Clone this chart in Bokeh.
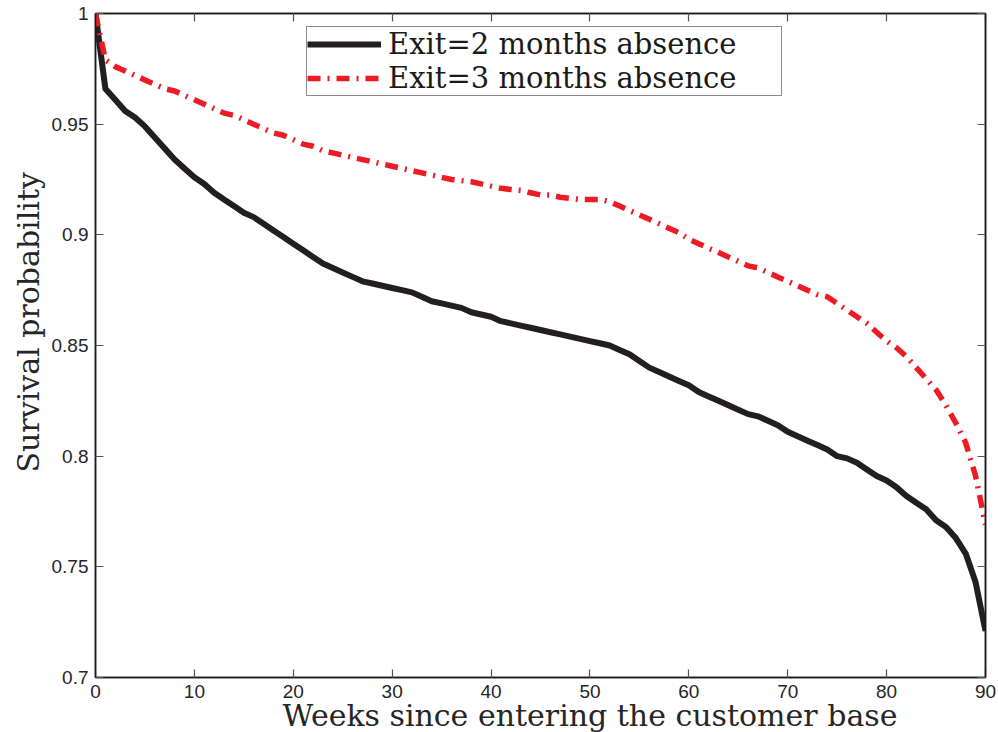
from bokeh.plotting import figure
from bokeh.models import Range1d, FixedTicker, LinearAxis, Legend, LegendItem, Title
from bokeh.embed import file_html
from bokeh.resources import INLINE

# ---- data ----
weeks = list(range(91))
exit2 = [1.000, 0.966, 0.961, 0.956, 0.953, 0.949, 0.944, 0.939, 0.934, 0.930,
         0.926, 0.923, 0.919, 0.916, 0.913, 0.910, 0.908, 0.905, 0.902, 0.899,
         0.896, 0.893, 0.890, 0.887, 0.885, 0.883, 0.881, 0.879, 0.878, 0.877,
         0.876, 0.875, 0.874, 0.872, 0.870, 0.869, 0.868, 0.867, 0.865, 0.864,
         0.863, 0.861, 0.860, 0.859, 0.858, 0.857, 0.856, 0.855, 0.854, 0.853,
         0.852, 0.851, 0.850, 0.848, 0.846, 0.843, 0.840, 0.838, 0.836, 0.834,
         0.832, 0.829, 0.827, 0.825, 0.823, 0.821, 0.819, 0.818, 0.816, 0.814,
         0.811, 0.809, 0.807, 0.805, 0.803, 0.800, 0.799, 0.797, 0.794, 0.791,
         0.789, 0.786, 0.782, 0.779, 0.776, 0.771, 0.768, 0.763, 0.756, 0.743,
         0.721]
exit3 = [1.000, 0.979, 0.976, 0.974, 0.972, 0.970, 0.968, 0.966, 0.965, 0.963,
         0.961, 0.959, 0.957, 0.955, 0.954, 0.952, 0.950, 0.948, 0.946, 0.945,
         0.943, 0.941, 0.940, 0.938, 0.937, 0.936, 0.935, 0.934, 0.933, 0.932,
         0.931, 0.930, 0.929, 0.928, 0.927, 0.926, 0.925, 0.9245, 0.924, 0.923,
         0.922, 0.921, 0.9205, 0.920, 0.919, 0.918, 0.918, 0.917, 0.9165, 0.916,
         0.916, 0.916, 0.915, 0.913, 0.911, 0.909, 0.907, 0.905, 0.903, 0.901,
         0.898, 0.896, 0.894, 0.892, 0.890, 0.888, 0.886, 0.885, 0.883, 0.881,
         0.879, 0.877, 0.875, 0.873, 0.872, 0.869, 0.866, 0.863, 0.860, 0.856,
         0.852, 0.849, 0.845, 0.840, 0.835, 0.830, 0.823, 0.815, 0.806, 0.791,
         0.769]
x_ticks = [0, 10, 20, 30, 40, 50, 60, 70, 80, 90]
y_ticks = [0.7, 0.75, 0.8, 0.85, 0.9, 0.95, 1.0]
y_tick_labels = ["0.7", "0.75", "0.8", "0.85", "0.9", "0.95", "1"]
series_labels = ["Exit=2 months absence", "Exit=3 months absence"]
x_label = "Weeks since entering the customer base"
y_label = "Survival probability"

SERIF = "DejaVu Serif"
SANS = "Liberation Sans"

p = figure(width=998, height=732, output_backend="svg", toolbar_location=None,
           x_range=Range1d(0, 90), y_range=Range1d(0.7, 1.0),
           min_border_left=95, min_border_right=13, min_border_top=13,
           min_border_bottom=55)
p.grid.visible = False
p.outline_line_color = "#1a1a1a"
p.outline_line_width = 1.5
p.background_fill_color = "white"
p.border_fill_color = "white"

r1 = p.line(weeks, exit2, line_color="#231f20", line_width=6, line_join="round")
r2 = p.line(weeks, exit3, line_color="#ed1c24", line_width=5.5,
            line_dash="13 7 2 7")


def style_axis(ax, ticks, show_labels):
    ax.ticker = FixedTicker(ticks=ticks)
    ax.major_tick_in = 8
    ax.major_tick_out = 0
    ax.minor_tick_in = 0
    ax.minor_tick_out = 0
    ax.major_tick_line_color = "#555555"
    ax.major_tick_line_width = 1.2
    ax.axis_line_color = "#1a1a1a"
    ax.axis_line_width = 1.5
    ax.major_label_text_font = SANS
    ax.major_label_text_color = "#262626"
    if show_labels:
        ax.major_label_text_font_size = "19px"
        ax.major_label_standoff = 7
    else:
        ax.major_label_text_font_size = "1px"
        ax.major_label_standoff = 0
        ax.major_label_overrides = {t: "" for t in ticks}


xb = p.xaxis[0]
yl = p.yaxis[0]
style_axis(xb, x_ticks, True)
style_axis(yl, y_ticks, True)
yl.major_label_overrides = {t: s for t, s in zip(y_ticks, y_tick_labels)}

xa = LinearAxis()
style_axis(xa, x_ticks, False)
p.add_layout(xa, "above")
yr = LinearAxis()
style_axis(yr, y_ticks, False)
p.add_layout(yr, "right")

# axis titles as side-panel titles (allows the reference's off-centre placement)
xtitle = Title(text=x_label, align="left", offset=187, standoff=-9,
               text_font=SERIF, text_font_size="30px", text_font_style="normal",
               text_color="#262626")
ytitle = Title(text=y_label, align="left", offset=205, standoff=6,
               text_font=SERIF, text_font_size="30px", text_font_style="normal",
               text_color="#262626")
p.add_layout(xtitle, "below")
p.add_layout(ytitle, "left")

legend = Legend(items=[LegendItem(label=series_labels[0], renderers=[r1]),
                       LegendItem(label=series_labels[1], renderers=[r2])],
                location=(211, 581))
legend.border_line_color = "#1a1a1a"
legend.border_line_width = 1.2
legend.background_fill_color = "white"
legend.background_fill_alpha = 1.0
legend.label_text_font = SERIF
legend.label_text_font_size = "29px"
legend.label_text_color = "#1a1a1a"
legend.glyph_width = 74
legend.glyph_height = 26
legend.label_height = 26
legend.label_width = 393
legend.label_standoff = 7
legend.spacing = 0
legend.padding = 0
legend.margin = 0
p.add_layout(legend)

open("out.html", "w").write(file_html(p, INLINE))
